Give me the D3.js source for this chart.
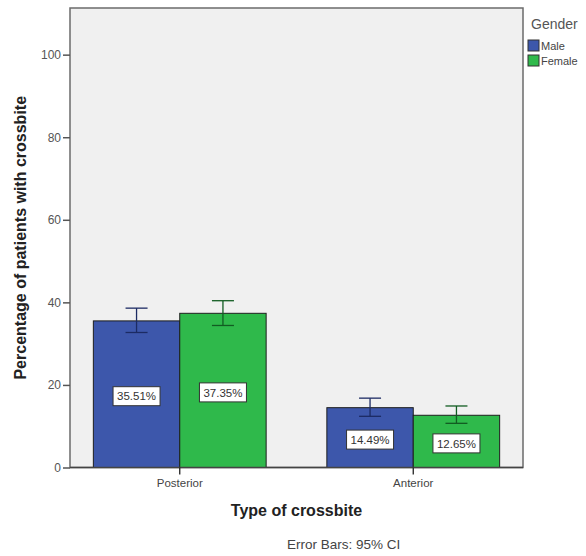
<!DOCTYPE html>
<html>
<head>
<meta charset="utf-8">
<script src="https://cdn.jsdelivr.net/npm/d3@7"></script>
<style>
  body { margin: 0; background: #fff; }
  text { font-family: 'Liberation Sans', Arial, sans-serif; }
</style>
</head>
<body>
<svg id="chart" width="586" height="556"></svg>
<script>

var categories = [ 'Posterior', 'Anterior' ];
var genders = [ 'Male', 'Female' ];
var maleValues = [ 35.51, 14.49 ];
var femaleValues = [ 37.35, 12.65 ];
var maleCiLow = [ 32.7, 12.4 ];
var maleCiHigh = [ 38.6, 16.8 ];
var femaleCiLow = [ 34.4, 10.7 ];
var femaleCiHigh = [ 40.4, 14.9 ];
var yTicks = [ 0, 20, 40, 60, 80, 100 ];

var svg = d3.select( '#chart' ),
  plot = { left: 70, right: 523, top: 8, bottom: 467.5 };

var rows = [];
categories.forEach( ( c, i ) => {
  rows.push( { cat: c, gender: 'Male', value: maleValues[ i ], lo: maleCiLow[ i ], hi: maleCiHigh[ i ] } );
  rows.push( { cat: c, gender: 'Female', value: femaleValues[ i ], lo: femaleCiLow[ i ], hi: femaleCiHigh[ i ] } );
} );

var x0 = d3.scaleBand()
  .domain( categories )
  .range( [ plot.left, plot.right ] )
  .paddingInner( 0.26 )
  .paddingOuter( 0.1 );

var x1 = d3.scaleBand()
  .domain( genders )
  .range( [ 0, x0.bandwidth() ] );

var y = d3.scaleLinear()
  .domain( [ 0, 111.3 ] )
  .range( [ plot.bottom, plot.top ] );

var fill = d3.scaleOrdinal()
  .domain( genders )
  .range( [ '#3d57ab', '#2fb94b' ] );

var errColor = d3.scaleOrdinal()
  .domain( genders )
  .range( [ '#1c2b63', '#125c22' ] );

// plot background
svg.append( 'rect' )
  .attr( 'x', plot.left )
  .attr( 'y', plot.top )
  .attr( 'width', plot.right - plot.left )
  .attr( 'height', plot.bottom - plot.top )
  .style( 'fill', '#f0f0f0' )
  .style( 'stroke', '#6b6b6b' )
  .style( 'stroke-width', 1.5 );

/* Bars */

svg.append( 'g' )
  .selectAll( 'rect' )
  .data( rows )
  .enter().append( 'rect' )
    .attr( 'x', d => x0( d.cat ) + x1( d.gender ) )
    .attr( 'y', d => y( d.value ) )
    .attr( 'width', x1.bandwidth() )
    .attr( 'height', d => y( 0 ) - y( d.value ) )
    .style( 'fill', d => fill( d.gender ) )
    .style( 'stroke', '#1e1e1e' )
    .style( 'stroke-width', 1 );

/* Error bars */

var errs = svg.append( 'g' )
  .selectAll( 'g' )
  .data( rows )
  .enter().append( 'g' )
    .attr( 'transform', d => 'translate(' + ( x0( d.cat ) + x1( d.gender ) + x1.bandwidth() / 2 ) + ',0)' )
    .style( 'stroke', d => errColor( d.gender ) )
    .style( 'stroke-width', 1.3 );

errs.append( 'line' )
  .attr( 'y1', d => y( d.lo ) )
  .attr( 'y2', d => y( d.hi ) );

errs.append( 'line' )
  .attr( 'x1', -11 )
  .attr( 'x2', 11 )
  .attr( 'y1', d => y( d.hi ) )
  .attr( 'y2', d => y( d.hi ) );

errs.append( 'line' )
  .attr( 'x1', -11 )
  .attr( 'x2', 11 )
  .attr( 'y1', d => y( d.lo ) )
  .attr( 'y2', d => y( d.lo ) );

/* Value labels */

var labels = svg.append( 'g' )
  .selectAll( 'g' )
  .data( rows )
  .enter().append( 'g' )
    .attr( 'transform', d => 'translate(' + ( x0( d.cat ) + x1( d.gender ) + x1.bandwidth() / 2 ) + ',' + ( y( d.value / 2 ) + 2 ) + ')' );

labels.append( 'rect' )
  .attr( 'x', -23.5 )
  .attr( 'y', -9.5 )
  .attr( 'width', 47 )
  .attr( 'height', 19 )
  .style( 'fill', '#fff' )
  .style( 'stroke', '#333' )
  .style( 'stroke-width', 1 );

labels.append( 'text' )
  .attr( 'text-anchor', 'middle' )
  .attr( 'dy', '0.36em' )
  .style( 'font-size', '11.5px' )
  .style( 'fill', '#333' )
  .text( d => d.value.toFixed( 2 ) + '%' );

/* Axes */

var yAxis = svg.append( 'g' )
  .attr( 'transform', 'translate(' + plot.left + ',0)' )
  .call( d3.axisLeft( y ).tickValues( yTicks ).tickSize( 7 ).tickPadding( 2 ) );

yAxis.select( '.domain' ).remove();
yAxis.selectAll( 'line' ).style( 'stroke', '#555' ).style( 'stroke-width', 1.5 );
yAxis.selectAll( 'text' )
  .style( 'font-size', '12px' )
  .style( 'fill', '#555' );

// zero line
svg.append( 'line' )
  .attr( 'x1', plot.left )
  .attr( 'x2', plot.right )
  .attr( 'y1', y( 0 ) )
  .attr( 'y2', y( 0 ) )
  .style( 'stroke', '#444' )
  .style( 'stroke-width', 1.5 );

var xAxis = svg.append( 'g' )
  .attr( 'transform', 'translate(0,' + plot.bottom + ')' )
  .call( d3.axisBottom( x0 ).tickSize( 7 ).tickPadding( 4 ) );

xAxis.select( '.domain' ).remove();
xAxis.selectAll( 'line' ).style( 'stroke', '#222' ).style( 'stroke-width', 1.3 );
xAxis.selectAll( 'text' )
  .style( 'font-size', '11.5px' )
  .style( 'fill', '#444' );

/* Titles */

svg.append( 'text' )
  .attr( 'transform', 'translate(26,' + ( ( plot.top + plot.bottom ) / 2 ) + ') rotate(-90)' )
  .attr( 'text-anchor', 'middle' )
  .style( 'font-size', '16px' )
  .style( 'font-weight', 'bold' )
  .style( 'fill', '#222' )
  .text( 'Percentage of patients with crossbite' );

svg.append( 'text' )
  .attr( 'x', ( plot.left + plot.right ) / 2 )
  .attr( 'y', 516 )
  .attr( 'text-anchor', 'middle' )
  .style( 'font-size', '16px' )
  .style( 'font-weight', 'bold' )
  .style( 'fill', '#222' )
  .text( 'Type of crossbite' );

svg.append( 'text' )
  .attr( 'x', 287 )
  .attr( 'y', 549 )
  .style( 'font-size', '13.5px' )
  .style( 'fill', '#444' )
  .text( 'Error Bars: 95% CI' );

/* Legend */

var legend = svg.append( 'g' )
  .attr( 'class', 'legend' );

legend.append( 'text' )
  .attr( 'x', 531 )
  .attr( 'y', 29 )
  .style( 'font-size', '14px' )
  .style( 'fill', '#555' )
  .text( 'Gender' );

var legends = legend.selectAll( 'g' )
  .data( genders )
  .enter().append( 'g' )
    .attr( 'transform', ( d, i ) => 'translate(528,' + ( 40 + i * 15 ) + ')' );

legends.append( 'rect' )
  .attr( 'width', 11 )
  .attr( 'height', 11 )
  .style( 'fill', d => fill( d ) )
  .style( 'stroke', '#333' )
  .style( 'stroke-width', 1 );

legends.append( 'text' )
  .attr( 'x', 13 )
  .attr( 'y', 10 )
  .style( 'font-size', '11px' )
  .style( 'fill', '#444' )
  .text( d => d );

</script>
</body>
</html>
